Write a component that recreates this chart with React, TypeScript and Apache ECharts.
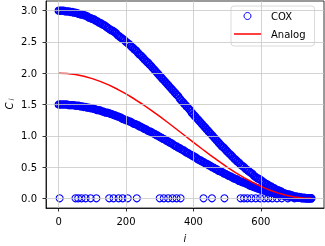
import React, { useEffect, useRef } from "react";
import * as echarts from "echarts";

const FONT = "DejaVu Sans";

// sample positions (i) of the COX points on the two curves
const coxIdx = [
  0, 5, 10, 15, 20, 25, 30, 35, 40, 45, 50, 55, 60, 65, 70, 75, 80, 85, 90, 95,
  100, 105, 110, 115, 120, 125, 130, 135, 140, 145, 150, 155, 160, 165, 170, 175, 180, 185, 190, 195,
  200, 205, 210, 215, 220, 225, 230, 235, 240, 245, 250, 255, 260, 265, 270, 275, 280, 285, 290, 295,
  300, 305, 310, 315, 320, 325, 330, 335, 340, 345, 350, 355, 360, 365, 370, 375, 380, 385, 390, 395,
  400, 405, 410, 415, 420, 425, 430, 435, 440, 445, 450, 455, 460, 465, 470, 475, 480, 485, 490, 495,
  500, 505, 510, 515, 520, 525, 530, 535, 540, 545, 550, 555, 560, 565, 570, 575, 580, 585, 590, 595,
  600, 605, 610, 615, 620, 625, 630, 635, 640, 645, 650, 655, 660, 665, 670, 675, 680, 685, 690, 695,
  700, 705, 710, 715, 720, 725, 730, 735, 740, 745, 750,
];

const coxUpper = [
  3.0, 3.0, 3.0, 3.0, 2.99, 2.99, 2.99, 2.98, 2.98, 2.97,
  2.97, 2.96, 2.95, 2.94, 2.94, 2.93, 2.92, 2.91, 2.89, 2.88,
  2.87, 2.86, 2.84, 2.83, 2.81, 2.8, 2.78, 2.77, 2.75, 2.73,
  2.71, 2.69, 2.68, 2.66, 2.64, 2.61, 2.59, 2.57, 2.55, 2.53,
  2.5, 2.48, 2.46, 2.43, 2.41, 2.38, 2.36, 2.33, 2.3, 2.28,
  2.25, 2.22, 2.19, 2.17, 2.14, 2.11, 2.08, 2.05, 2.02, 1.99,
  1.96, 1.93, 1.9, 1.87, 1.84, 1.81, 1.78, 1.75, 1.72, 1.69,
  1.66, 1.63, 1.59, 1.56, 1.53, 1.5, 1.47, 1.44, 1.41, 1.37,
  1.34, 1.31, 1.28, 1.25, 1.22, 1.19, 1.16, 1.13, 1.1, 1.07,
  1.04, 1.01, 0.98, 0.95, 0.92, 0.89, 0.86, 0.83, 0.81, 0.78,
  0.75, 0.72, 0.7, 0.67, 0.64, 0.62, 0.59, 0.57, 0.54, 0.52,
  0.5, 0.47, 0.45, 0.43, 0.41, 0.39, 0.36, 0.34, 0.32, 0.31,
  0.29, 0.27, 0.25, 0.23, 0.22, 0.2, 0.19, 0.17, 0.16, 0.14,
  0.13, 0.12, 0.11, 0.09, 0.08, 0.07, 0.06, 0.06, 0.05, 0.04,
  0.03, 0.03, 0.02, 0.02, 0.01, 0.01, 0.01, 0.0, 0.0, 0.0, 0.0,
];

const coxLower = [
  1.5, 1.5, 1.5, 1.5, 1.5, 1.5, 1.49, 1.49, 1.49, 1.49,
  1.48, 1.48, 1.48, 1.47, 1.47, 1.46, 1.46, 1.45, 1.45, 1.44,
  1.44, 1.43, 1.42, 1.41, 1.41, 1.4, 1.39, 1.38, 1.37, 1.37,
  1.36, 1.35, 1.34, 1.33, 1.32, 1.31, 1.3, 1.29, 1.27, 1.26,
  1.25, 1.24, 1.23, 1.22, 1.2, 1.19, 1.18, 1.17, 1.15, 1.14,
  1.125, 1.11, 1.1, 1.08, 1.07, 1.06, 1.04, 1.03, 1.01, 1.0,
  0.98, 0.97, 0.95, 0.94, 0.92, 0.91, 0.89, 0.88, 0.86, 0.84,
  0.83, 0.81, 0.8, 0.78, 0.77, 0.75, 0.73, 0.72, 0.7, 0.69,
  0.67, 0.66, 0.64, 0.62, 0.61, 0.59, 0.58, 0.56, 0.55, 0.53,
  0.52, 0.5, 0.49, 0.47, 0.46, 0.44, 0.43, 0.42, 0.4, 0.39,
  0.375, 0.36, 0.35, 0.335, 0.32, 0.31, 0.3, 0.28, 0.27, 0.26,
  0.25, 0.24, 0.23, 0.21, 0.2, 0.19, 0.18, 0.17, 0.16, 0.15,
  0.14, 0.13, 0.13, 0.12, 0.11, 0.1, 0.09, 0.09, 0.08, 0.07,
  0.06, 0.06, 0.05, 0.05, 0.04, 0.04, 0.03, 0.03, 0.02, 0.02,
  0.02, 0.01, 0.01, 0.01, 0.01, 0.0, 0.0, 0.0, 0.0, 0.0, 0.0,
];

// i positions of the COX points that sit at 0
const coxZeroIdx = [
  3, 50, 58, 68, 80, 95, 112, 150, 163, 178, 190, 205, 232, 300, 312, 325, 338,
  350, 362, 430, 455, 492, 540, 550, 560, 572, 585, 598, 610, 622, 634, 648, 662,
  680, 700, 720,
];

const analogIdx = [
  0, 25, 50, 75, 100, 125, 150, 175, 200, 225, 250, 275, 300, 325, 350, 375,
  400, 425, 450, 475, 500, 525, 550, 575, 600, 625, 650, 675, 700, 725, 750,
];
const analogVal = [
  2.0, 1.9945, 1.9781, 1.9511, 1.9135, 1.866, 1.809, 1.7431, 1.6691, 1.5878,
  1.5, 1.4067, 1.309, 1.2079, 1.1045, 1.0, 0.8955, 0.7921, 0.691, 0.5933,
  0.5, 0.4122, 0.3309, 0.2569, 0.191, 0.134, 0.0865, 0.0489, 0.0219, 0.0055, 0.0,
];

const xTicks = [0, 200, 400, 600];
const yTicks = [0, 0.5, 1, 1.5, 2, 2.5, 3];

export default function App() {
  const ref = useRef<HTMLDivElement>(null);
  useEffect(() => {
    if (!ref.current) return;
    const chart = echarts.init(ref.current, null, { renderer: "svg" });

    const coxCurveData: number[][] = [];
    coxIdx.forEach((x, k) => coxCurveData.push([x, coxUpper[k]]));
    coxIdx.forEach((x, k) => coxCurveData.push([x, coxLower[k]]));
    const coxZeroData = coxZeroIdx.map((x) => [x, 0]);
    const analogData = analogIdx.map((x, k) => [x, analogVal[k]]);

    const gridColor = "#c8c8c8";
    const option: any = {
      animation: false,
      grid: {
        left: 46,
        right: 1,
        top: 1,
        bottom: 38,
        show: true,
        borderColor: "#000",
        borderWidth: 0.8,
        backgroundColor: "transparent",
        containLabel: false,
        outerBoundsMode: "none",
      },
      xAxis: {
        type: "value",
        min: -37.5,
        max: 787.5,
        splitLine: { show: false },
        axisLine: { show: true, onZero: false, lineStyle: { color: "#000", width: 0.8 } },
        axisTick: {
          show: true,
          length: 3.5,
          customValues: xTicks,
          lineStyle: { color: "#000", width: 0.8 },
        },
        axisLabel: {
          customValues: xTicks,
          color: "#000",
          fontSize: 10,
          fontFamily: FONT,
          margin: 8,
        },
      },
      yAxis: {
        type: "value",
        min: -0.155,
        max: 3.155,
        splitLine: { show: false },
        axisLine: { show: true, onZero: false, lineStyle: { color: "#000", width: 0.8 } },
        axisTick: {
          show: true,
          length: 3.5,
          customValues: yTicks,
          lineStyle: { color: "#000", width: 0.8 },
        },
        axisLabel: {
          customValues: yTicks,
          color: "#000",
          fontSize: 10,
          fontFamily: FONT,
          margin: 9,
          formatter: (v: number) => v.toFixed(1),
        },
      },
      legend: {
        orient: "vertical",
        left: 231,
        top: 6,
        padding: [4, 9, 6, 3],
        itemGap: 6,
        itemWidth: 27,
        itemHeight: 7,
        backgroundColor: "rgba(255,255,255,0.8)",
        borderColor: "#d0d0d0",
        borderWidth: 0.8,
        borderRadius: 3,
        textStyle: {
          color: "#000",
          fontSize: 10,
          fontFamily: FONT,
          lineHeight: 12,
          padding: [0, 0, 0, 5],
        },
        data: [
          {
            name: "COX",
            icon: "circle",
            itemStyle: { color: "rgba(0,0,0,0)", borderColor: "#0000ff", borderWidth: 1 },
          },
          {
            name: "Analog",
            icon: "path://M0,0 L27,0 L27,1.5 L0,1.5 Z",
            itemStyle: { color: "#ff0000", borderWidth: 0 },
          },
        ],
      },
      graphic: [
        {
          type: "text",
          x: 9,
          y: 106,
          rotation: Math.PI / 2,
          style: {
            text: "C",
            fontSize: 10,
            fontStyle: "italic",
            fontFamily: FONT,
            fill: "#000",
            textAlign: "center",
            textVerticalAlign: "middle",
          },
        },
        {
          type: "text",
          x: 12,
          y: 99.5,
          rotation: Math.PI / 2,
          style: {
            text: "i",
            fontSize: 7,
            fontStyle: "italic",
            fontFamily: FONT,
            fill: "#000",
            textAlign: "center",
            textVerticalAlign: "middle",
          },
        },
        {
          type: "text",
          x: 185,
          y: 238,
          style: {
            text: "i",
            fontSize: 10,
            fontStyle: "italic",
            fontFamily: FONT,
            fill: "#000",
            textAlign: "center",
            textVerticalAlign: "middle",
          },
        },
      ],
      series: [
        {
          name: "grid",
          type: "line",
          data: [],
          z: 1,
          silent: true,
          markLine: {
            silent: true,
            symbol: ["none", "none"],
            label: { show: false },
            animation: false,
            lineStyle: { color: gridColor, width: 0.8, type: "solid" },
            emphasis: { disabled: true },
            data: [
              ...yTicks.map((v) => ({ yAxis: v })),
              ...xTicks.map((v) => ({ xAxis: v })),
            ],
          },
        },
        {
          name: "COX",
          type: "scatter",
          z: 2,
          symbol: "circle",
          symbolSize: 6.6,
          itemStyle: { color: "rgba(0,0,0,0)", borderColor: "#0000ff", borderWidth: 1.7, opacity: 1 },
          data: coxCurveData,
        },
        {
          name: "COX",
          type: "scatter",
          z: 2,
          symbol: "circle",
          symbolSize: 7,
          itemStyle: { color: "rgba(0,0,0,0)", borderColor: "#0000ff", borderWidth: 1.1, opacity: 1 },
          data: coxZeroData,
        },
        {
          name: "Analog",
          type: "line",
          z: 3,
          symbol: "none",
          showSymbol: false,
          lineStyle: { color: "#ff0000", width: 1.5 },
          itemStyle: { color: "#ff0000" },
          data: analogData,
        },
      ],
    };
    chart.setOption(option);
    return () => chart.dispose();
  }, []);
  return (
    <div
      ref={ref}
      style={{ position: "fixed", left: 0, top: 0, width: 325, height: 246 }}
    />
  );
}
